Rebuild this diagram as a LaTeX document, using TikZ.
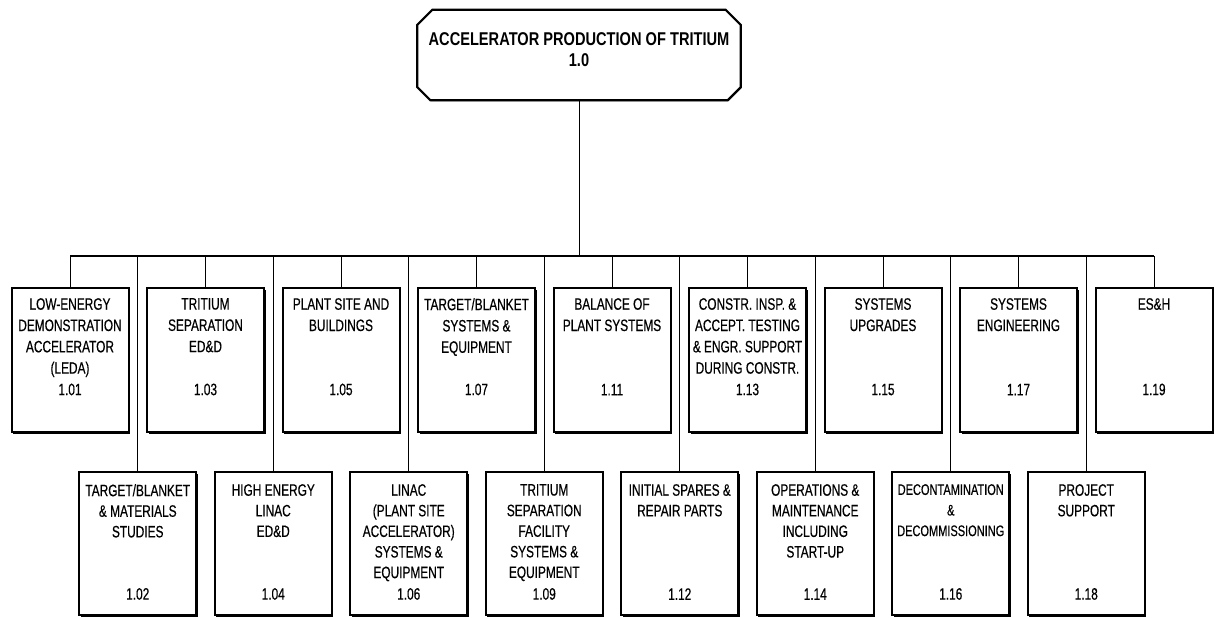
\documentclass[tikz,border=0pt]{standalone}
\usepackage{fontspec}
\setmainfont{Liberation Sans}[FakeStretch=0.72, FakeBold=0.4]
\newfontfamily\titlefont{Liberation Sans}[FakeStretch=0.79]
\usetikzlibrary{positioning, shadows}

\tikzset{
  topbox/.style={minimum width=323pt, minimum height=90pt, inner sep=0pt},
  topframe/.style={draw, fill=white, line width=2.2pt, line join=miter,
    drop shadow={shadow xshift=0.8pt, shadow yshift=-1pt, opacity=1, fill=black}},
  titletxt/.style={inner sep=0pt, align=center, font=\titlefont\bfseries\fontsize{18.5}{21}\selectfont},
  upbox/.style={draw, fill=white, line width=2pt, minimum width=117pt, minimum height=144pt,
    drop shadow={shadow xshift=1.6pt, shadow yshift=-1.6pt, opacity=1, fill=black}},
  lowbox/.style={upbox, minimum height=143pt},
  wbstxt/.style={inner sep=0pt, align=center, font=\fontsize{16.5}{21.3}\selectfont},
  lowtxt/.style={wbstxt, font=\fontsize{16.5}{20.6}\selectfont},
  wbsnum/.style={inner sep=0pt, font=\fontsize{16.5}{21}\selectfont},
  stem/.style={line width=0.9pt},
  bus/.style={line width=2.5pt},
}

\begin{document}
\begin{tikzpicture}[x=1pt, y=-1pt]
  \useasboundingbox (0,0) rectangle (1221,618);

  % Project
  \node[topbox] (apt) at (579,55) {};
  \path[topframe] ([xshift=15pt]apt.north west) -- ([xshift=-15pt]apt.north east)
    -- ([yshift=-15pt]apt.north east) -- ([yshift=13pt]apt.south east)
    -- ([xshift=-13pt]apt.south east) -- ([xshift=13pt]apt.south west)
    -- ([yshift=13pt]apt.south west) -- ([yshift=-15pt]apt.north west) -- cycle;
  \node[titletxt] (apttxt) at ([yshift=5pt]apt.center) {ACCELERATOR PRODUCTION OF TRITIUM\\1.0};

  % Upper row
  \node[upbox] (w101) at (70,360) {};
  \node[wbstxt, below=11pt of w101.north] (w101t) {LOW-ENERGY\\DEMONSTRATION\\ACCELERATOR\\(LEDA)};
  \node[wbsnum, above=37.5pt of w101.south] (w101n) {1.01};

  \node[upbox] (w103) at (205.5,360) {};
  \node[wbstxt, below=11pt of w103.north] (w103t) {TRITIUM\\SEPARATION\\ED\&D};
  \node[wbsnum, above=37.5pt of w103.south] (w103n) {1.03};

  \node[upbox] (w105) at (341,360) {};
  \node[wbstxt, below=11pt of w105.north] (w105t) {PLANT SITE AND\\BUILDINGS};
  \node[wbsnum, above=37.5pt of w105.south] (w105n) {1.05};

  \node[upbox] (w107) at (476.5,360) {};
  \node[wbstxt, below=11pt of w107.north] (w107t) {TARGET/BLANKET\\SYSTEMS \&\\EQUIPMENT};
  \node[wbsnum, above=37.5pt of w107.south] (w107n) {1.07};

  \node[upbox] (w111) at (612,360) {};
  \node[wbstxt, below=11pt of w111.north] (w111t) {BALANCE OF\\PLANT SYSTEMS};
  \node[wbsnum, above=37.5pt of w111.south] (w111n) {1.11};

  \node[upbox] (w113) at (747.5,360) {};
  \node[wbstxt, below=11pt of w113.north] (w113t) {CONSTR. INSP. \&\\ACCEPT. TESTING\\\& ENGR. SUPPORT\\DURING CONSTR.};
  \node[wbsnum, above=37.5pt of w113.south] (w113n) {1.13};

  \node[upbox] (w115) at (883,360) {};
  \node[wbstxt, below=11pt of w115.north] (w115t) {SYSTEMS\\UPGRADES};
  \node[wbsnum, above=37.5pt of w115.south] (w115n) {1.15};

  \node[upbox] (w117) at (1018.5,360) {};
  \node[wbstxt, below=11pt of w117.north] (w117t) {SYSTEMS\\ENGINEERING};
  \node[wbsnum, above=37.5pt of w117.south] (w117n) {1.17};

  \node[upbox] (w119) at (1154,360) {};
  \node[wbstxt, below=11pt of w119.north] (w119t) {ES\&H};
  \node[wbsnum, above=37.5pt of w119.south] (w119n) {1.19};

  % Lower row
  \node[lowbox] (w102) at (137.75,543.5) {};
  \node[lowtxt, below=13pt of w102.north] (w102t) {TARGET/BLANKET\\\& MATERIALS\\STUDIES};
  \node[wbsnum, above=16pt of w102.south] (w102n) {1.02};

  \node[lowbox] (w104) at (273.25,543.5) {};
  \node[lowtxt, below=13pt of w104.north] (w104t) {HIGH ENERGY\\LINAC\\ED\&D};
  \node[wbsnum, above=16pt of w104.south] (w104n) {1.04};

  \node[lowbox] (w106) at (408.75,543.5) {};
  \node[lowtxt, below=13pt of w106.north] (w106t) {LINAC\\(PLANT SITE\\ACCELERATOR)\\SYSTEMS \&\\EQUIPMENT};
  \node[wbsnum, above=16pt of w106.south] (w106n) {1.06};

  \node[lowbox] (w109) at (544.25,543.5) {};
  \node[lowtxt, below=13pt of w109.north] (w109t) {TRITIUM\\SEPARATION\\FACILITY\\SYSTEMS \&\\EQUIPMENT};
  \node[wbsnum, above=16pt of w109.south] (w109n) {1.09};

  \node[lowbox] (w112) at (679.75,543.5) {};
  \node[lowtxt, below=13pt of w112.north] (w112t) {INITIAL SPARES \&\\REPAIR PARTS};
  \node[wbsnum, above=16pt of w112.south] (w112n) {1.12};

  \node[lowbox] (w114) at (815.25,543.5) {};
  \node[lowtxt, below=13pt of w114.north] (w114t) {OPERATIONS \&\\MAINTENANCE\\INCLUDING\\START-UP};
  \node[wbsnum, above=16pt of w114.south] (w114n) {1.14};

  \node[lowbox] (w116) at (950.75,543.5) {};
  \node[lowtxt, font=\fontsize{15.3}{20.6}\selectfont, below=13pt of w116.north] (w116t) {DECONTAMINATION\\\&\\DECOMMISSIONING};
  \node[wbsnum, above=16pt of w116.south] (w116n) {1.16};

  \node[lowbox] (w118) at (1086.25,543.5) {};
  \node[lowtxt, below=13pt of w118.north] (w118t) {PROJECT\\SUPPORT};
  \node[wbsnum, above=16pt of w118.south] (w118n) {1.18};

  % Bus and feeders
  \coordinate (bus) at (0,256);
  \draw[bus] (w101.north |- bus) -- (w119.north |- bus);
  \draw[stem] (apt.south) -- (apt.south |- bus);

  \draw[stem] (w101.north |- bus) -- (w101.north);
  \draw[stem] (w103.north |- bus) -- (w103.north);
  \draw[stem] (w105.north |- bus) -- (w105.north);
  \draw[stem] (w107.north |- bus) -- (w107.north);
  \draw[stem] (w111.north |- bus) -- (w111.north);
  \draw[stem] (w113.north |- bus) -- (w113.north);
  \draw[stem] (w115.north |- bus) -- (w115.north);
  \draw[stem] (w117.north |- bus) -- (w117.north);
  \draw[stem] (w119.north |- bus) -- (w119.north);

  \draw[stem] (w102.north |- bus) -- (w102.north);
  \draw[stem] (w104.north |- bus) -- (w104.north);
  \draw[stem] (w106.north |- bus) -- (w106.north);
  \draw[stem] (w109.north |- bus) -- (w109.north);
  \draw[stem] (w112.north |- bus) -- (w112.north);
  \draw[stem] (w114.north |- bus) -- (w114.north);
  \draw[stem] (w116.north |- bus) -- (w116.north);
  \draw[stem] (w118.north |- bus) -- (w118.north);
\end{tikzpicture}
\end{document}
